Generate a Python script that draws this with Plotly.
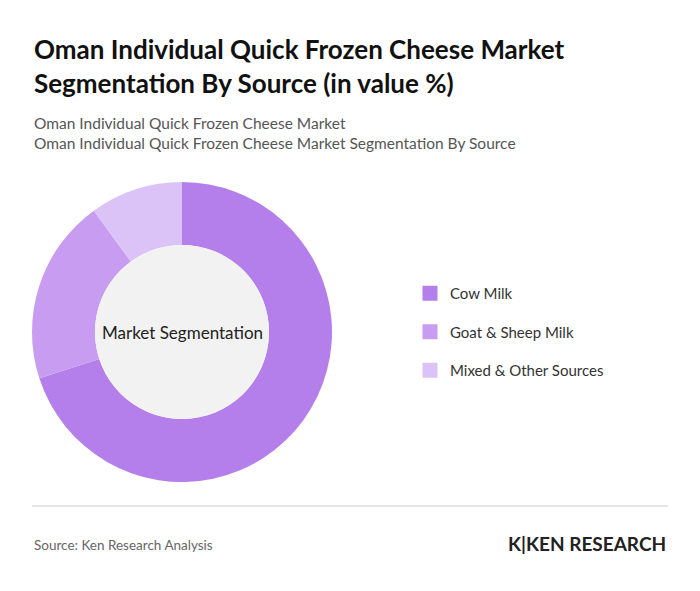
import plotly.graph_objects as go

labels = ["Cow Milk", "Goat & Sheep Milk", "Mixed & Other Sources"]
values = [70, 20, 10]
colors = ["#B57FEB", "#C89CF0", "#DCC3F7"]

W, H = 700, 591
OX, OY = 8, 8
def px(x): return (x - OX) / W
def py(y): return 1 - (y - OY) / H

fig = go.Figure()
fig.add_trace(go.Pie(labels=labels, values=values, hole=0.58, sort=False, direction="clockwise",
                     rotation=0, marker=dict(colors=colors, line=dict(width=0)), textinfo="none",
                     showlegend=False,
                     domain=dict(x=[px(32), px(332)], y=[py(482), py(182)])))
fig.add_trace(go.Pie(values=[1], labels=["_"], marker=dict(colors=["#F2F2F2"], line=dict(width=0)),
                     textinfo="none", showlegend=False, hoverinfo="skip",
                     domain=dict(x=[px(95), px(269)], y=[py(419), py(245)])))
for lab, col in zip(labels, colors):
    fig.add_trace(go.Scatter(x=[None], y=[None], mode="markers", name=lab, legendgroup=lab,
                             marker=dict(symbol="square", size=15, color=col)))
fig.add_annotation(x=px(182), y=py(332), xref="paper", yref="paper", xanchor="center", yanchor="middle",
                   text="Market Segmentation", showarrow=False, font=dict(size=17, color="#222"))
fig.add_annotation(x=px(32), y=py(66), xref="paper", yref="paper", xanchor="left", yanchor="middle",
                   align="left", showarrow=False,
                   text="<b>Oman Individual Quick Frozen Cheese Market<br>Segmentation By Source (in value %)</b>",
                   font=dict(size=26, color="#111"))
fig.add_annotation(x=px(32), y=py(133), xref="paper", yref="paper", xanchor="left", yanchor="middle",
                   align="left", showarrow=False,
                   text="Oman Individual Quick Frozen Cheese Market<br>Oman Individual Quick Frozen Cheese Market Segmentation By Source",
                   font=dict(size=15.5, color="#555"))
fig.add_annotation(x=px(32), y=py(545), xref="paper", yref="paper", xanchor="left", yanchor="middle",
                   showarrow=False, text="Source: Ken Research Analysis", font=dict(size=13.5, color="#666"))
fig.add_annotation(x=px(668), y=py(543), xref="paper", yref="paper", xanchor="right", yanchor="middle",
                   showarrow=False, text="<b>K|KEN RESEARCH</b>", font=dict(size=19, color="#222"))
fig.add_shape(type="line", xref="paper", yref="paper", x0=px(32), x1=px(668), y0=py(506), y1=py(506),
              line=dict(color="#ccc", width=1))
fig.update_layout(width=W, height=H, margin=dict(l=0, r=0, t=0, b=0), paper_bgcolor="white",
                  plot_bgcolor="white",
                  xaxis=dict(visible=False), yaxis=dict(visible=False),
                  font=dict(family="Lato, sans-serif"),
                  legend=dict(x=px(410), y=py(332), yanchor="middle", xanchor="left",
                              font=dict(size=15, color="#333"), tracegroupgap=16))
fig.write_html("out.html")
